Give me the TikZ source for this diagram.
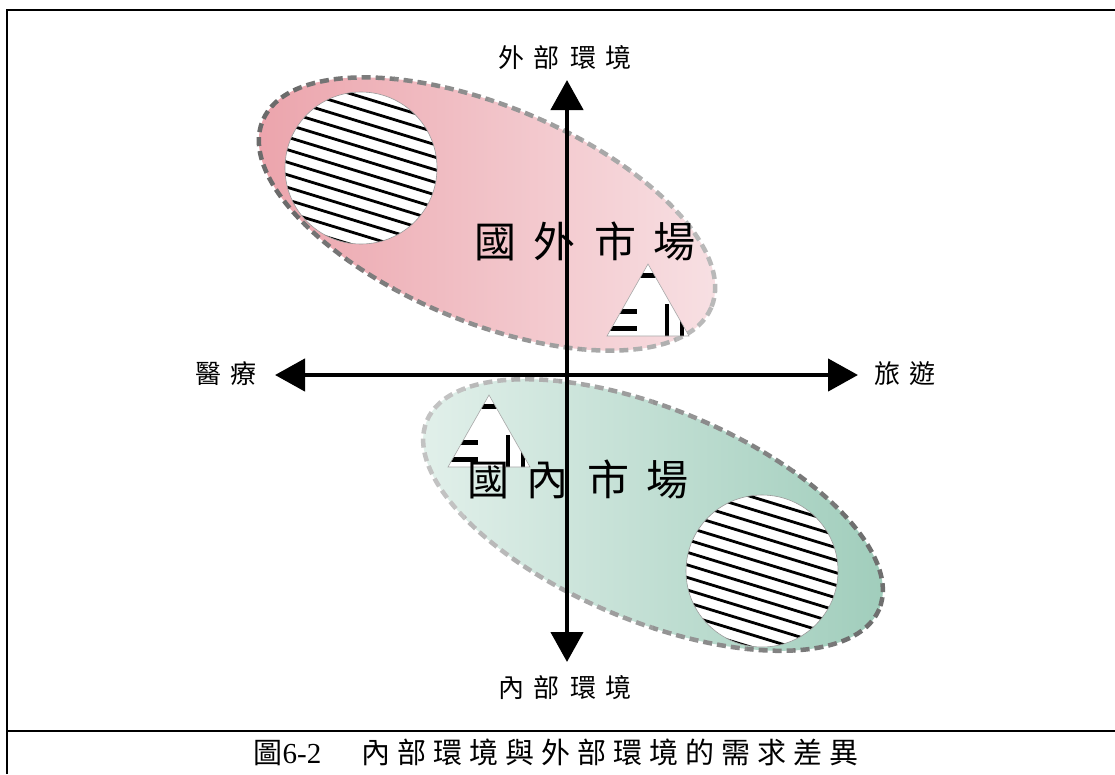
\documentclass[tikz,border=0pt]{standalone}
\usepackage{fontspec}
\setmainfont{Liberation Serif}
\newfontfamily\cjk{Noto Sans CJK TC}
\usetikzlibrary{arrows.meta}
\definecolor{pinkL}{HTML}{EBA2AA}
\definecolor{pinkR}{HTML}{F8E2E5}
\definecolor{greenL}{HTML}{E4F1EC}
\definecolor{greenR}{HTML}{9ECCBA}
\newcommand{\topell}{(487,214) ellipse [x radius=243,y radius=108]}
\newcommand{\botell}{(653,515) ellipse [x radius=245,y radius=106]}
\newcommand{\tripath}{(0,0) -- (-41,72) -- (41,72) -- cycle}
\newcommand{\hatchtri}[2]{%
  \begin{scope}[shift={(#1,#2)}]
    \fill[white] \tripath;
    \begin{scope}
      \clip \tripath;
      \fill[black] (-30,8.5) rectangle (30,13.5);
      \fill[black] (-50,45) rectangle (-11,50);
      \fill[black] (-50,62) rectangle (-11,67);
      \fill[black] (17,40) rectangle (21,80);
      \fill[black] (32,40) rectangle (36,80);
    \end{scope}
    \draw[black!35, line width=0.6] \tripath;
  \end{scope}}
\newcommand{\hatchcirc}[2]{%
  \fill[white] (#1,#2) circle (76);
  \begin{scope}
    \clip (#1,#2) circle (76);
    \begin{scope}[shift={(#1,#2)}, rotate=-17]
      \foreach \i in {-7,...,7} {\draw[line width=2.8] (-110,\i*12+4) -- (110,\i*12+4);}
    \end{scope}
  \end{scope}
  \draw[black!40, line width=0.6] (#1,#2) circle (76);}
\begin{document}
\begin{tikzpicture}[x=1pt,y=-1pt,
  frame/.style={line width=2.4},
  dashedge/.style={line width=4.5, dash pattern=on 9pt off 5pt},
  axis/.style={line width=4.5, {Triangle[length=30pt,width=32pt]}-{Triangle[length=30pt,width=32pt]}},
  axlabel/.style={font=\cjk\fontsize{26}{26}\selectfont, inner sep=0pt},
  biglabel/.style={font=\cjk\fontsize{42}{42}\selectfont, inner sep=0pt},
  caption/.style={font=\fontsize{29}{29}\selectfont, inner sep=0pt}]
\useasboundingbox (0,0) rectangle (1115,774);
\fill[white] (0,0) rectangle (1115,774);
% frame
\draw[frame] (7,774) -- (7,10) -- (1115,10);
\draw[frame] (7,731) -- (1115,731);
% top ellipse
\shade[left color=pinkL, right color=pinkR, rotate around={-22.6:(487,214)}] \topell;
\foreach \k in {0,...,9} {
  \pgfmathsetmacro\pc{58-\k*3.4}
  \begin{scope}
    \clip (253+\k*47,0) rectangle ++(47.5,400);
    \draw[dashedge, black!\pc, rotate around={-22.6:(487,214)}] \topell;
  \end{scope}}
% bottom ellipse
\shade[left color=greenL, right color=greenR, rotate around={-22.6:(653,515)}] \botell;
\foreach \k in {0,...,9} {
  \pgfmathsetmacro\pc{24+\k*3.6}
  \begin{scope}
    \clip (418+\k*47,360) rectangle ++(47.5,320);
    \draw[dashedge, black!\pc, rotate around={-22.6:(653,515)}] \botell;
  \end{scope}}
% circles
\hatchcirc{361}{168}
\hatchcirc{762}{571}
% triangles
\hatchtri{648}{264}
\hatchtri{489}{395}
% big labels
\node[biglabel] (foreign) at (585,241) {國\hspace{18pt}外\hspace{18pt}市\hspace{18pt}場};
\node[biglabel] (domestic) at (578,479) {國\hspace{18pt}內\hspace{18pt}市\hspace{18pt}場};
% axes
\coordinate (ytop) at (567,80);
\coordinate (ybot) at (567,662);
\coordinate (xleft) at (275,375);
\coordinate (xright) at (858,375);
\draw[axis] (xleft) -- (xright);
\draw[axis] (ybot) -- (ytop);
% axis labels
\node[axlabel] (ext) at (565,58) {外\hspace{10pt}部\hspace{10pt}環\hspace{10pt}境};
\node[axlabel] (int) at (565,688) {內\hspace{10pt}部\hspace{10pt}環\hspace{10pt}境};
\node[axlabel] (med) at (226,374) {醫\hspace{10pt}療};
\node[axlabel] (tour) at (905,374) {旅\hspace{10pt}遊};
% caption
\node[caption] (cap) at (556,752) {{\cjk 圖}6-2\hspace{40pt}{\cjk 內\hspace{7pt}部\hspace{7pt}環\hspace{7pt}境\hspace{7pt}與\hspace{7pt}外\hspace{7pt}部\hspace{7pt}環\hspace{7pt}境\hspace{7pt}的\hspace{7pt}需\hspace{7pt}求\hspace{7pt}差\hspace{7pt}異}};
\end{tikzpicture}
\end{document}
